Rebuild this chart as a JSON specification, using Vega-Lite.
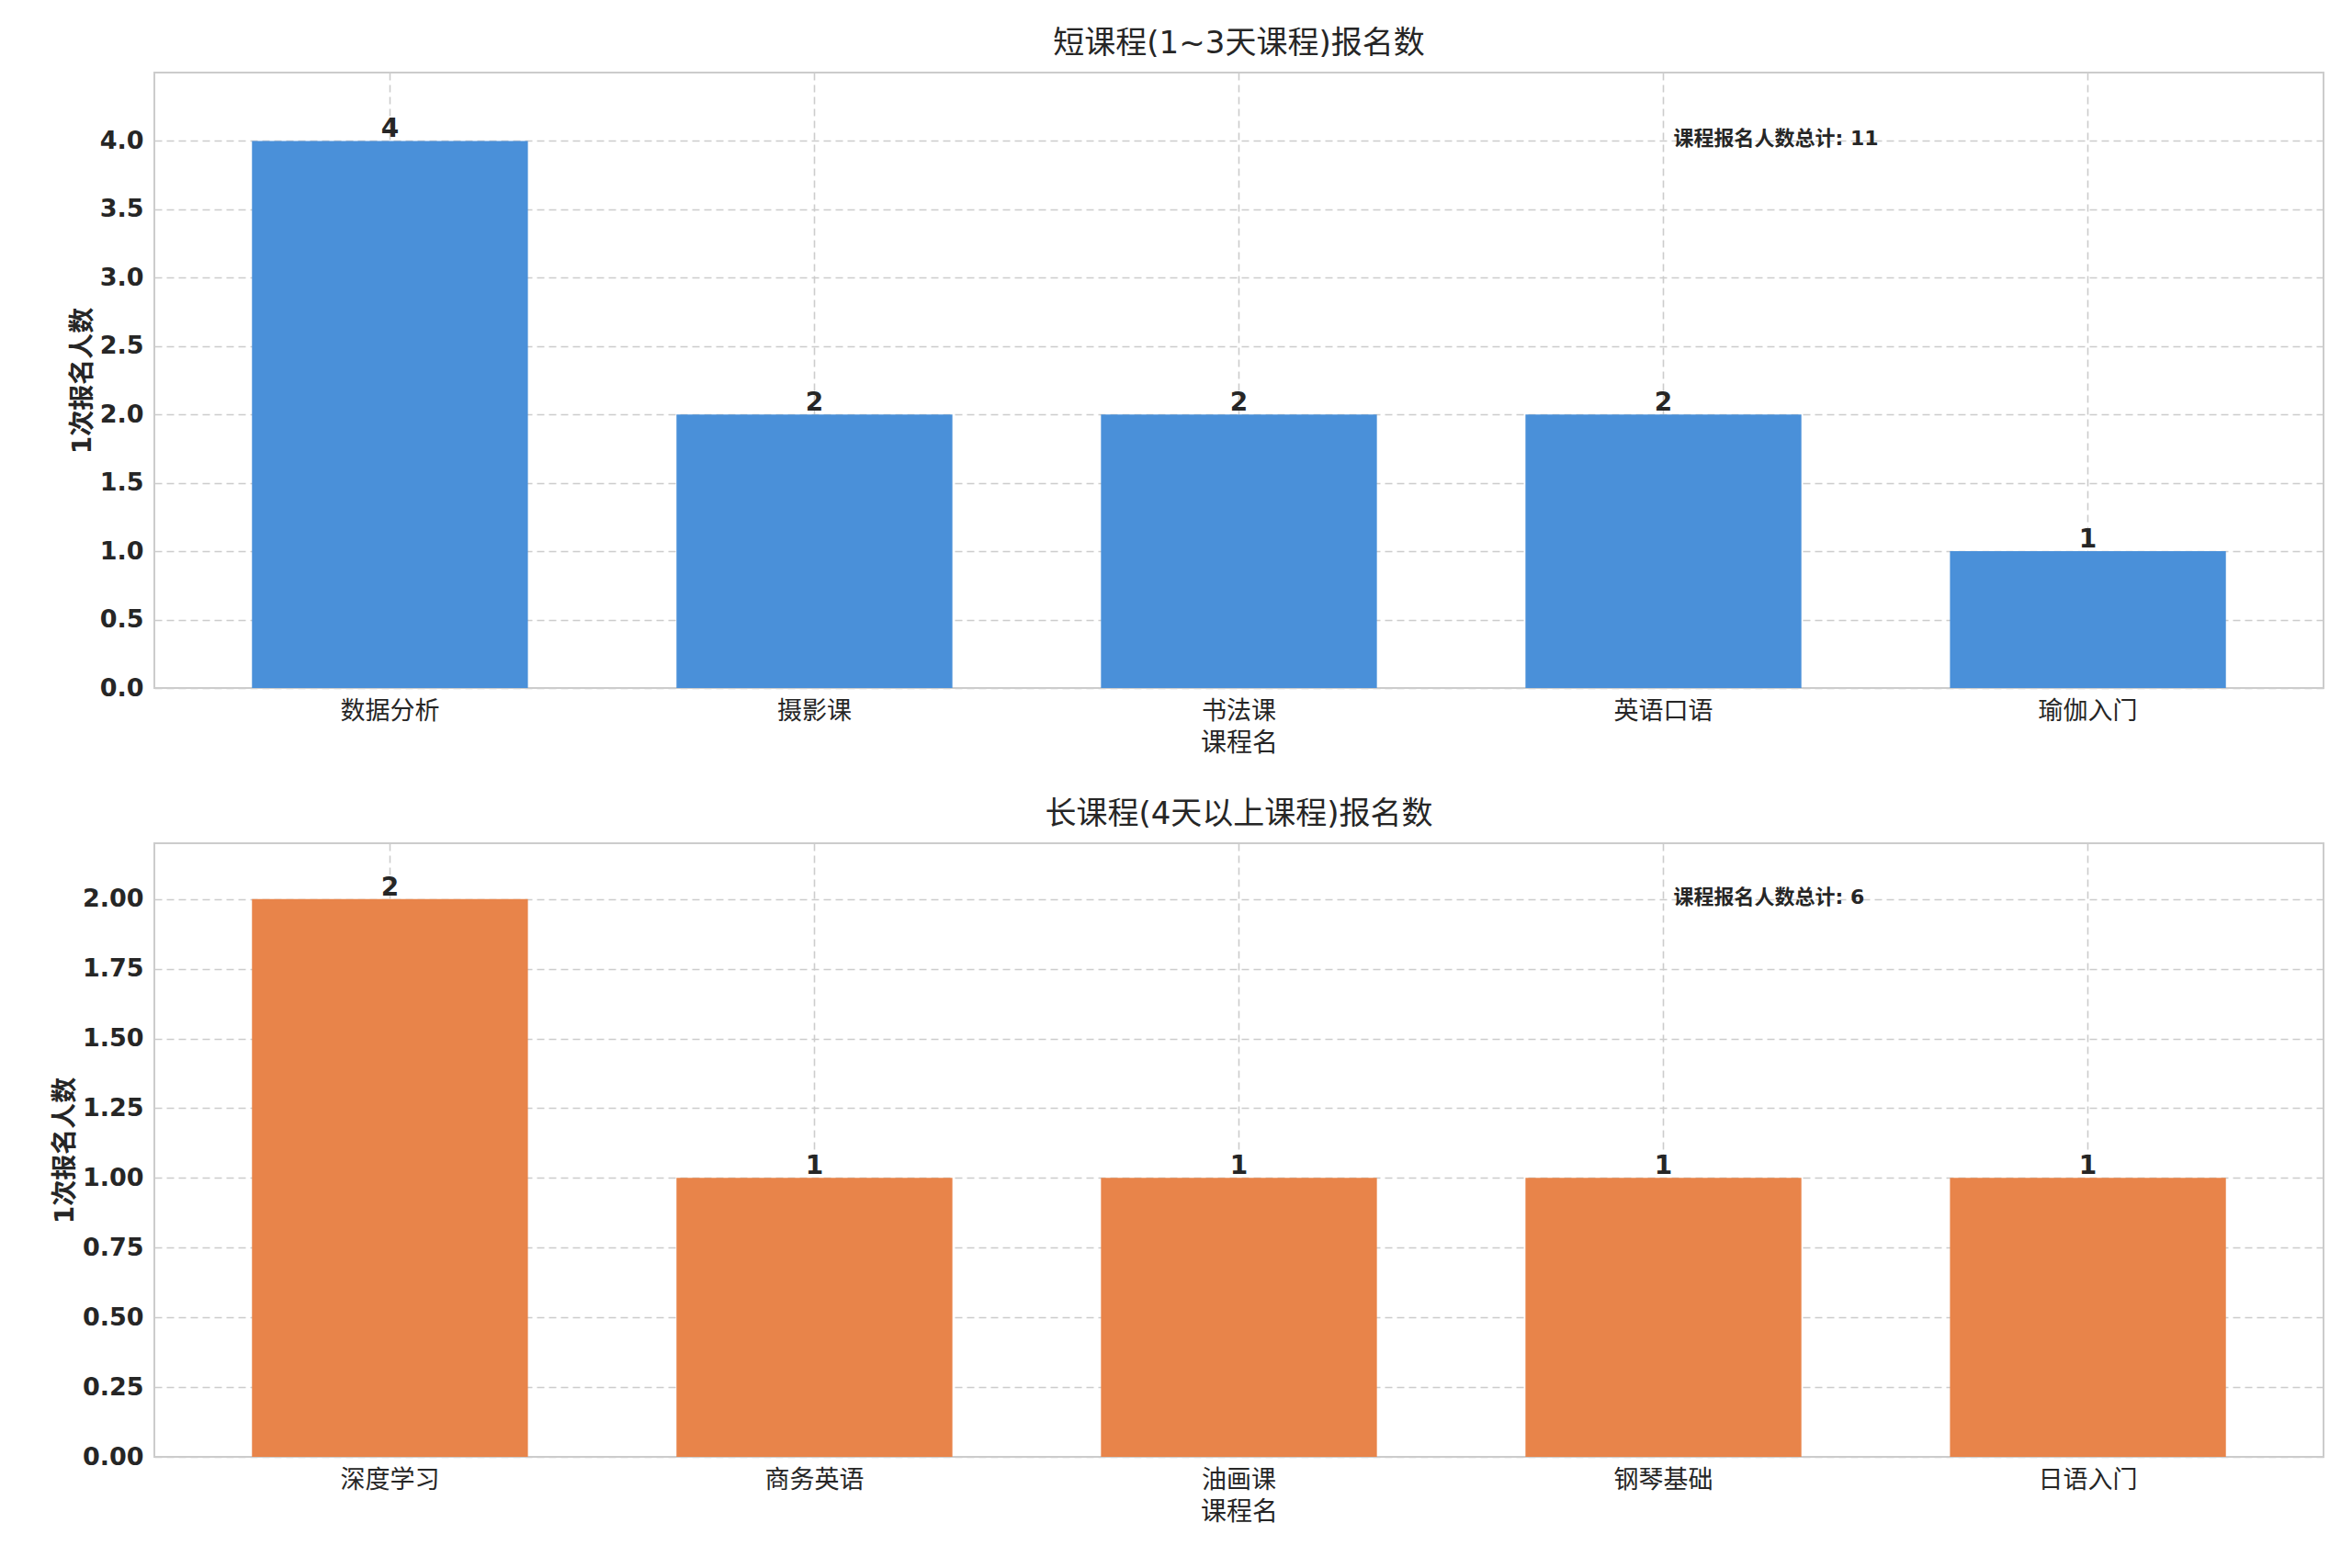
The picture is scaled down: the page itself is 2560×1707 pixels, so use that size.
{
"$schema":"https://vega.github.io/schema/vega-lite/v6.json",
"background":"white",
"padding":{"left":56,"top":30,"right":10,"bottom":10},
"config":{"font":"DejaVu Sans, Noto Sans CJK SC","view":{"stroke":"#cccccc","strokeWidth":2},
 "axis":{"gridColor":"#cccccc","gridDash":[8,5],"gridWidth":1.6,"domain":false,"ticks":false,"labelFontSize":27,"labelColor":"#262626","titleColor":"#262626","titleFontSize":28,"labelPadding":12},
 "title":{"fontSize":34,"fontWeight":"normal","color":"#262626","offset":14}},
"datasets":{
 "a":[{"c":"数据分析","v":4},{"c":"摄影课","v":2},{"c":"书法课","v":2},{"c":"英语口语","v":2},{"c":"瑜伽入门","v":1}],
 "b":[{"c":"深度学习","v":2},{"c":"商务英语","v":1},{"c":"油画课","v":1},{"c":"钢琴基础","v":1},{"c":"日语入门","v":1}],
 "na":[{"c":"英语口语","v":4,"t":"课程报名人数总计: 11"}],
 "nb":[{"c":"钢琴基础","v":2,"t":"课程报名人数总计: 6"}]
},
"spacing":45,
"vconcat":[
 {"width":2361,"height":670,"title":"短课程(1~3天课程)报名数",
  "layer":[
   {"data":{"name":"a"},"mark":{"type":"bar","color":"#4A90D9"},
    "encoding":{"x":{"field":"c","type":"nominal","sort":null,"scale":{"paddingInner":0.35,"paddingOuter":0.23},"title":"课程名","axis":{"labelAngle":0,"grid":true,"bandPosition":0.5,"titleFontWeight":"normal","labelFontWeight":"normal","titlePadding":8}},
     "y":{"field":"v","type":"quantitative","scale":{"domain":[0,4.4]},"title":"1次报名人数","axis":{"values":[0,0.5,1,1.5,2,2.5,3,3.5,4],"format":".1f","labelFontWeight":"bold","titleFontWeight":"bold"}}}},
   {"data":{"name":"a"},"mark":{"type":"text","fontSize":28,"fontWeight":"bold","color":"#262626","baseline":"bottom","dy":2},
    "encoding":{"x":{"field":"c","type":"nominal","sort":null},"y":{"field":"v","type":"quantitative"},"text":{"field":"v"}}},
   {"data":{"name":"na"},"mark":{"type":"text","fontSize":22,"fontWeight":"bold","color":"#262626","align":"left","baseline":"middle","dx":11,"dy":-2},
    "encoding":{"x":{"field":"c","type":"nominal","sort":null},"y":{"field":"v","type":"quantitative"},"text":{"field":"t"}}}
  ]},
 {"width":2361,"height":668,"title":"长课程(4天以上课程)报名数",
  "layer":[
   {"data":{"name":"b"},"mark":{"type":"bar","color":"#E8844A"},
    "encoding":{"x":{"field":"c","type":"nominal","sort":null,"scale":{"paddingInner":0.35,"paddingOuter":0.23},"title":"课程名","axis":{"labelAngle":0,"grid":true,"bandPosition":0.5,"titleFontWeight":"normal","labelFontWeight":"normal","titlePadding":8}},
     "y":{"field":"v","type":"quantitative","scale":{"domain":[0,2.2]},"title":"1次报名人数","axis":{"values":[0,0.25,0.5,0.75,1,1.25,1.5,1.75,2],"format":".2f","labelFontWeight":"bold","titleFontWeight":"bold"}}}},
   {"data":{"name":"b"},"mark":{"type":"text","fontSize":28,"fontWeight":"bold","color":"#262626","baseline":"bottom","dy":2},
    "encoding":{"x":{"field":"c","type":"nominal","sort":null},"y":{"field":"v","type":"quantitative"},"text":{"field":"v"}}},
   {"data":{"name":"nb"},"mark":{"type":"text","fontSize":22,"fontWeight":"bold","color":"#262626","align":"left","baseline":"middle","dx":11,"dy":-2},
    "encoding":{"x":{"field":"c","type":"nominal","sort":null},"y":{"field":"v","type":"quantitative"},"text":{"field":"t"}}}
  ]}
]}
